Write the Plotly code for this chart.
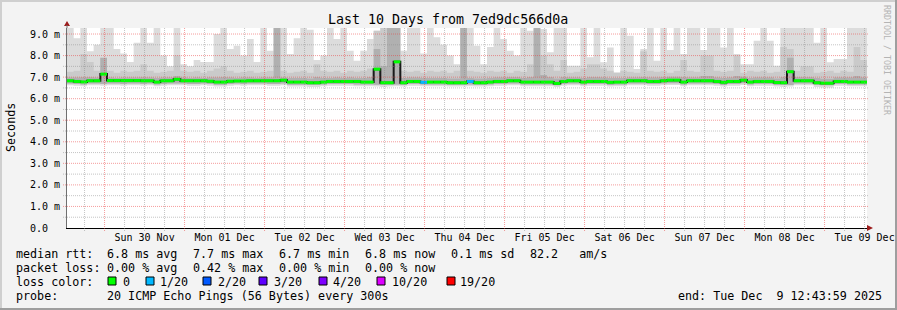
import plotly.graph_objects as go
import pandas as pd

# ---------------- data (2-hour bins) ----------------
start_time = "2025-11-29 12:43:59"
bin_hours = 2

median_ms = [
    6.83, 6.80, 6.78, 6.83, 6.83, 7.14, 6.84, 6.84, 6.84, 6.84, 6.84, 6.83,
    6.83, 6.77, 6.83, 6.83, 6.90, 6.83, 6.83, 6.83, 6.83, 6.81, 6.77, 6.77,
    6.81, 6.82, 6.82, 6.83, 6.83, 6.83, 6.83, 6.83, 6.86, 6.77, 6.77, 6.77,
    6.74, 6.74, 6.77, 6.80, 6.80, 6.80, 6.80, 6.80, 6.77, 6.77, 7.37, 6.74,
    6.74, 7.71, 6.74, 6.80, 6.80, 6.76, 6.77, 6.77, 6.77, 6.74, 6.74, 6.74,
    6.80, 6.74, 6.74, 6.77, 6.80, 6.80, 6.83, 6.83, 6.77, 6.77, 6.77, 6.77,
    6.77, 6.71, 6.80, 6.83, 6.83, 6.77, 6.80, 6.80, 6.80, 6.76, 6.77, 6.77,
    6.83, 6.83, 6.83, 6.80, 6.80, 6.83, 6.86, 6.86, 6.77, 6.83, 6.83, 6.83, 6.83,
    6.80, 6.76, 6.80, 6.80, 6.86, 6.77, 6.80, 6.80, 6.80, 6.75, 6.74, 7.25,
    6.83, 6.83, 6.83, 6.74, 6.72, 6.72, 6.80, 6.80, 6.77, 6.77, 6.77,
]

smoke_top_ms = [
    9.3, 8.8, 9.3, 8.2, 8.5, 9.3, 9.3, 8.3, 8.1, 7.7, 8.6, 9.3,
    8.6, 9.3, 8.0, 7.5, 9.3, 7.6, 7.5, 7.8, 7.7, 7.7, 9.0, 9.3,
    8.3, 8.46, 8.0, 8.77, 7.7, 9.3, 8.23, 9.3, 9.3, 8.07, 8.8, 9.3,
    9.2, 7.8, 8.0, 9.3, 8.77, 9.3, 8.23, 7.76, 8.23, 8.77, 9.15, 9.3,
    8.69, 9.3, 8.23, 9.3, 9.3, 8.1, 9.3, 8.85, 8.5, 8.0, 7.6, 9.3,
    9.3, 8.46, 7.6, 8.4, 9.3, 8.77, 8.23, 8.0, 9.3, 9.15, 9.23, 9.23,
    8.15, 9.3, 9.3, 7.53, 7.53, 9.3, 7.92, 9.3, 7.69, 8.38, 7.22, 9.3,
    8.92, 7.38, 8.3, 9.3, 7.76, 9.3, 8.26, 9.3, 8.07, 9.3, 9.28, 8.26, 9.3,
    9.3, 8.38, 9.3, 8.07, 7.6, 7.6, 8.69, 9.3, 8.69, 7.53, 9.3, 9.3,
    9.3, 9.3, 9.3, 8.6, 9.3, 7.69, 7.84, 7.84, 9.3, 9.3, 9.3,
]

smoke_mid_top_ms = [
    7.25, 7.3, 8.07, 7.7, 7.3, 7.9, 7.3, 7.2, 7.3, 7.25, 7.3, 7.6,
    7.3, 7.2, 7.25, 7.3, 8.0, 7.3, 7.25, 7.3, 7.2, 7.3, 7.4, 7.5,
    7.3, 7.2, 7.25, 7.3, 7.2, 7.25, 7.3, 9.3, 7.3, 7.2, 7.25, 7.3,
    7.2, 7.6, 7.3, 7.25, 7.3, 7.2, 7.3, 7.25, 7.3, 7.4, 9.15, 9.3,
    8.69, 9.3, 7.3, 7.25, 7.3, 7.2, 7.3, 7.25, 7.3, 7.2, 7.3, 9.3,
    7.3, 7.25, 7.2, 7.3, 7.25, 7.3, 7.2, 7.3, 7.25, 7.6, 9.3, 8.0,
    7.6, 7.3, 7.8, 7.2, 7.25, 7.4, 7.6, 7.6, 7.4, 7.3, 7.2, 7.3,
    7.25, 7.2, 8.2, 7.3, 7.25, 7.3, 7.2, 7.3, 7.8, 7.3, 7.25, 8.0, 8.0,
    7.3, 7.25, 7.3, 8.0, 7.2, 7.3, 7.25, 7.3, 7.2, 7.25, 8.4, 8.3,
    7.3, 7.5, 7.5, 7.2, 7.25, 7.3, 7.2, 7.3, 7.25, 8.4, 7.8,
]

smoke_core_top_ms = [
    6.98, 6.98, 7.0, 7.0, 6.98, 7.9, 6.98, 6.96, 6.98, 6.98, 6.98, 7.0,
    6.98, 6.96, 6.98, 6.98, 7.05, 6.98, 6.96, 6.98, 6.96, 6.98, 6.98, 7.0,
    6.98, 6.96, 6.98, 6.98, 6.96, 6.98, 6.98, 9.3, 6.98, 6.96, 6.96, 6.96,
    6.94, 7.0, 6.96, 6.96, 6.98, 6.96, 6.98, 6.96, 6.96, 7.0, 8.3, 7.5,
    9.3, 9.3, 6.96, 6.98, 6.98, 6.96, 6.96, 6.96, 6.96, 6.94, 6.94, 9.3,
    6.96, 6.94, 6.94, 6.96, 6.98, 6.98, 7.0, 7.0, 6.96, 7.0, 9.3, 7.1,
    7.0, 6.94, 7.0, 6.98, 6.98, 6.96, 7.0, 7.0, 6.98, 6.96, 6.96, 6.96,
    6.98, 6.98, 7.0, 6.98, 6.98, 7.0, 7.02, 7.02, 7.0, 6.98, 6.98, 7.05, 7.05,
    6.98, 6.96, 6.98, 7.05, 7.02, 6.96, 6.98, 6.98, 6.98, 6.94, 7.0, 7.9,
    7.0, 7.0, 7.0, 6.96, 6.92, 6.92, 6.98, 6.98, 6.98, 7.05, 6.98,
]

smoke_bottom_ms = [
    6.62, 6.60, 6.58, 6.62, 6.62, 6.60, 6.62, 6.62, 6.60, 6.62, 6.62, 6.60,
    6.62, 6.58, 6.60, 6.62, 6.62, 6.62, 6.60, 6.60, 6.62, 6.60, 6.56, 6.56,
    6.60, 6.62, 6.60, 6.62, 6.62, 6.62, 6.60, 6.60, 6.62, 6.56, 6.56, 6.56,
    6.54, 6.54, 6.58, 6.60, 6.60, 6.60, 6.60, 6.58, 6.58, 6.58, 6.56, 6.54,
    6.56, 6.58, 6.56, 6.60, 6.60, 6.58, 6.58, 6.58, 6.58, 6.56, 6.56, 6.56,
    6.58, 6.56, 6.56, 6.58, 6.60, 6.60, 6.62, 6.62, 6.58, 6.58, 6.58, 6.58,
    6.58, 6.54, 6.60, 6.62, 6.62, 6.58, 6.60, 6.60, 6.60, 6.56, 6.58, 6.58,
    6.62, 6.62, 6.62, 6.60, 6.60, 6.62, 6.64, 6.64, 6.58, 6.62, 6.62, 6.62, 6.62,
    6.60, 6.56, 6.60, 6.60, 6.64, 6.58, 6.60, 6.60, 6.60, 6.56, 6.54, 6.56,
    6.62, 6.62, 6.62, 6.54, 6.52, 6.52, 6.60, 6.60, 6.58, 6.58, 6.58,
]

smoke_mid_bottom_ms = [
    6.70, 6.68, 6.66, 6.70, 6.70, 6.68, 6.70, 6.70, 6.68, 6.70, 6.70, 6.68,
    6.70, 6.66, 6.68, 6.70, 6.70, 6.70, 6.68, 6.68, 6.70, 6.68, 6.65, 6.65,
    6.68, 6.70, 6.68, 6.70, 6.70, 6.70, 6.68, 6.68, 6.70, 6.65, 6.65, 6.65,
    6.63, 6.63, 6.66, 6.68, 6.68, 6.68, 6.68, 6.66, 6.66, 6.66, 6.65, 6.63,
    6.64, 6.66, 6.64, 6.68, 6.68, 6.66, 6.66, 6.66, 6.66, 6.64, 6.64, 6.64,
    6.66, 6.64, 6.64, 6.66, 6.68, 6.68, 6.70, 6.70, 6.66, 6.66, 6.66, 6.66,
    6.66, 6.62, 6.68, 6.70, 6.70, 6.66, 6.68, 6.68, 6.68, 6.64, 6.66, 6.66,
    6.70, 6.70, 6.70, 6.68, 6.68, 6.70, 6.72, 6.72, 6.66, 6.70, 6.70, 6.70, 6.70,
    6.68, 6.64, 6.68, 6.68, 6.72, 6.66, 6.68, 6.68, 6.68, 6.64, 6.63, 6.64,
    6.70, 6.70, 6.70, 6.64, 6.62, 6.62, 6.68, 6.68, 6.66, 6.66, 6.66,
]

loss_bins = [53, 60]        # bins where pings were lost
loss_pings = [1, 1]         # lost pings (of 20) in those bins

y_tick_vals = [0, 1, 2, 3, 4, 5, 6, 7, 8, 9]
y_tick_text = ["0.0\u00a0\u00a0", "1.0 m", "2.0 m", "3.0 m", "4.0 m", "5.0 m",
               "6.0 m", "7.0 m", "8.0 m", "9.0 m"]
x_tick_text = ["Sun 30 Nov", "Mon 01 Dec", "Tue 02 Dec", "Wed 03 Dec", "Thu 04 Dec",
               "Fri 05 Dec", "Sat 06 Dec", "Sun 07 Dec", "Mon 08 Dec", "Tue 09 Dec"]

loss_legend_labels = ["0", "1/20", "2/20", "3/20", "4/20", "10/20", "19/20"]
loss_legend_colors = ["#00ff00", "#00b8ff", "#0059ff", "#5e00ff", "#7e00ff", "#dd00ff", "#ff0000"]

# ---------------- geometry ----------------
W, H = 897, 310
PL, PR, PT, PB = 67, 867, 28, 228
Y_MAX = 9.28
FONT = "DejaVu Sans Mono"


def px(x):
    return (x - PL) / (PR - PL)


def py(y):
    return (PB - y) / (PB - PT)


n = len(median_ms)
t_edges = pd.date_range(pd.Timestamp(start_time), periods=n + 1, freq=f"{bin_hours}h")
t_start, t_end = t_edges[0], t_edges[-1]


def step(vals):
    return list(vals) + [vals[-1]]


fig = go.Figure()


def band(lo, hi, color):
    fig.add_trace(go.Scatter(x=t_edges, y=step(lo), mode="lines",
                             line=dict(width=0, shape="hv"), hoverinfo="skip",
                             showlegend=False))
    fig.add_trace(go.Scatter(x=t_edges, y=step(hi), mode="lines",
                             line=dict(width=0, shape="hv"), fill="tonexty",
                             fillcolor=color, hoverinfo="skip", showlegend=False))


band(smoke_bottom_ms, smoke_top_ms, "#dcdcdc")
band(smoke_mid_bottom_ms, smoke_mid_top_ms, "#cacaca")
band(smoke_mid_bottom_ms, smoke_core_top_ms, "#b0b0b0")

# median: dark step line underneath, coloured horizontal segments on top
fig.add_trace(go.Scatter(x=t_edges, y=step(median_ms), mode="lines",
                         line=dict(color="#1a1a1a", width=2, shape="hv"),
                         hoverinfo="skip", showlegend=False))

loss_of_bin = {b: p for b, p in zip(loss_bins, loss_pings)}
color_of_loss = {0: loss_legend_colors[0], 1: loss_legend_colors[1]}
segs = {}
for i, m in enumerate(median_ms):
    c = color_of_loss[loss_of_bin.get(i, 0)]
    xs, ys = segs.setdefault(c, ([], []))
    xs += [t_edges[i], t_edges[i + 1], None]
    ys += [m, m, None]
for c, (xs, ys) in segs.items():
    fig.add_trace(go.Scatter(x=xs, y=ys, mode="lines", line=dict(color=c, width=3),
                             hoverinfo="skip", showlegend=False))

shapes = []
MAJ = "rgba(235,60,60,0.5)"
MIN = "rgba(140,140,140,0.5)"
# vertical grid: every 6 h, red at midnight
g = t_start.ceil("6h")
while g <= t_end:
    major = g.hour == 0
    shapes.append(dict(type="line", xref="x", yref="paper", x0=g, x1=g,
                       y0=py(PB + 3), y1=1,
                       line=dict(color=MAJ if major else MIN, width=1, dash="1px,1px")))
    g += pd.Timedelta(hours=6)
# horizontal grid: every 0.5 ms, red at whole ms
for k in range(1, 19):
    v = k * 0.5
    major = k % 2 == 0
    shapes.append(dict(type="line", xref="paper", yref="y", x0=px(PL - 4), x1=px(PR + 2),
                       y0=v, y1=v,
                       line=dict(color=MAJ if major else MIN, width=1, dash="1px,1px")))

# arrows
arrow_col = "#9c1c1c"
shapes.append(dict(type="path", xref="paper", yref="paper", fillcolor=arrow_col,
                   line=dict(width=0),
                   path=f"M {px(64)},{py(26)} L {px(70)},{py(26)} L {px(67)},{py(21)} Z"))
shapes.append(dict(type="path", xref="paper", yref="paper", fillcolor=arrow_col,
                   line=dict(width=0),
                   path=f"M {px(867)},{py(225)} L {px(867)},{py(231)} L {px(873)},{py(228)} Z"))
# y axis line extension up to the arrow
shapes.append(dict(type="line", xref="paper", yref="paper", x0=px(67), x1=px(67),
                   y0=py(PT), y1=py(25), line=dict(color="#707070", width=1)))


# outer frame shading
def rect(x0, y0, x1, y1, col):
    shapes.append(dict(type="rect", xref="paper", yref="paper", x0=px(x0), x1=px(x1),
                       y0=py(y1), y1=py(y0), fillcolor=col, line=dict(width=0)))


rect(0, 0, W, 2, "#cfcfcf")
rect(0, 0, 2, H, "#cfcfcf")
rect(0, H - 2, W, H, "#9e9e9e")
rect(W - 2, 0, W, H, "#9e9e9e")

# legend colour boxes
box_x = [108, 146, 203, 259, 319, 377, 447]
for bx, col in zip(box_x, loss_legend_colors):
    shapes.append(dict(type="rect", xref="paper", yref="paper", x0=px(bx), x1=px(bx + 8),
                       y0=py(285), y1=py(277), fillcolor=col,
                       line=dict(color="#000000", width=1)))

ann = []


def text(x, y, s, size=11.7, anchor="left", color="#000000", angle=0):
    ann.append(dict(x=px(x), y=py(y), xref="paper", yref="paper", text=s, showarrow=False,
                    xanchor=anchor, yanchor="middle", textangle=angle,
                    borderpad=0, borderwidth=0,
                    font=dict(family=FONT, size=size, color=color)))


text(448, 19, "Last 10 Days from 7ed9dc566d0a", size=13.3, anchor="center")
text(11, 127, "Seconds", size=11.7, anchor="center", angle=-90)
text(887, 60, "RRDTOOL / TOBI OETIKER", size=8.3, anchor="center", color="#b4b4b4", angle=90)

row1 = [(16, "median rtt:"), (107, "6.8 ms avg"), (193, "7.7 ms max"), (279, "6.7 ms min"),
        (365, "6.8 ms now"), (451, "0.1 ms sd"), (530, "82.2\u00a0\u00a0\u00a0am/s")]
row2 = [(16, "packet loss:"), (107, "0.00 % avg"), (193, "0.42 % max"), (279, "0.00 % min"),
        (365, "0.00 % now")]
for x, s in row1:
    text(x, 254, s)
for x, s in row2:
    text(x, 268, s)
text(16, 282, "loss color:")
label_x = [123, 160, 218, 274, 333, 392, 460]
for lx, s in zip(label_x, loss_legend_labels):
    text(lx, 282, s)
text(16, 296, "probe:")
text(107, 296, "20 ICMP Echo Pings (56 Bytes) every 300s")
text(678, 296, "end: Tue Dec\u00a0\u00a09 12:43:59 2025")

x_tick_vals = [t_start.normalize() + pd.Timedelta(days=d + 1, hours=12) for d in range(len(x_tick_text))]

fig.update_layout(
    width=W, height=H, autosize=False,
    margin=dict(l=PL, r=W - PR, t=PT, b=H - PB, pad=0),
    paper_bgcolor="#f3f3f3", plot_bgcolor="#ffffff",
    showlegend=False, shapes=shapes, annotations=ann,
    font=dict(family=FONT, color="#000000"),
    xaxis=dict(type="date", range=[t_start, t_end], tickvals=x_tick_vals, ticktext=x_tick_text,
               ticks="", showgrid=False, zeroline=False, showline=True, linecolor="#000000",
               linewidth=1, automargin=False,
               tickfont=dict(family=FONT, size=10, color="#000000"), fixedrange=True),
    yaxis=dict(range=[0, Y_MAX], tickvals=y_tick_vals, ticktext=y_tick_text, ticks="",
               showgrid=False, zeroline=False, showline=True, linecolor="#707070", linewidth=1,
               automargin=False, ticklabelstandoff=4,
               tickfont=dict(family=FONT, size=10, color="#000000"), fixedrange=True),
)

fig.write_html("out.html")
